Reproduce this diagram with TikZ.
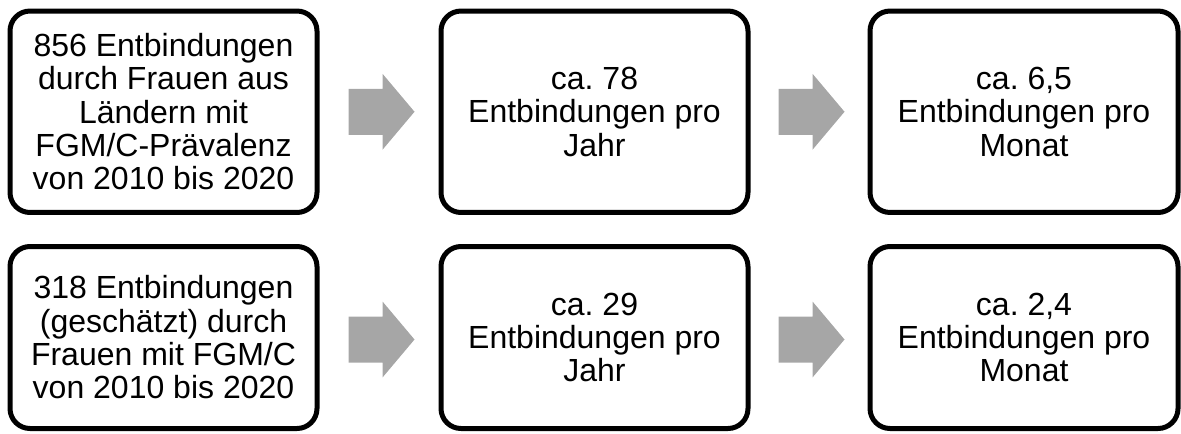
\documentclass[tikz,border=0pt]{standalone}
\usepackage{fontspec}
\setmainfont{Liberation Sans}
\usetikzlibrary{calc}
\definecolor{arrowgray}{HTML}{A6A6A6}
\frenchspacing
\tikzset{
  box/.style={draw=black, line width=3.75pt, rounded corners=15pt, fill=white,
    minimum width=230.25pt, align=center, inner sep=0pt,
    font=\fontsize{24pt}{25pt}\selectfont},
  toprow/.style={minimum height=151.1pt},
  botrow/.style={minimum height=136.5pt},
  blockarrow/.style={fill=arrowgray, draw=none}
}
\begin{document}
\begin{tikzpicture}[x=0.75pt,y=-0.75pt]
\useasboundingbox (0,0) rectangle (1181,433);
\node[box,toprow] (a1) at (163.5,111.75) {856 Entbindungen\\durch Frauen aus\\Ländern mit\\FGM/C-Prävalenz\\von 2010 bis 2020};
\node[box,toprow] (a2) at (594.5,111.75) {ca. 78\\Entbindungen pro\\Jahr};
\node[box,toprow,minimum width=231pt] (a3) at (1024,111.75) {ca. 6,5\\Entbindungen pro\\Monat};
\node[box,botrow] (b1) at (163.5,337.5) {318 Entbindungen\\(geschätzt) durch\\Frauen mit FGM/C\\von 2010 bis 2020};
\node[box,botrow] (b2) at (594.5,337.5) {ca. 29\\Entbindungen pro\\Jahr};
\node[box,botrow,minimum width=231pt] (b3) at (1024,337.5) {ca. 2,4\\Entbindungen pro\\Monat};
\foreach \l/\r/\dy in {a1/a2/0, a2/a3/0, b1/b2/2, b2/b3/2}{
  \coordinate (m) at ($($(\l.east)!0.5!(\r.west)$)+(2.5,\dy)$);
  \fill[blockarrow] (m) ++(-33,-23) -- ++(34,0) -- ++(0,-15) -- ++(32,38)
     -- ++(-32,38) -- ++(0,-15) -- ++(-34,0) -- cycle;
}
\end{tikzpicture}
\end{document}
